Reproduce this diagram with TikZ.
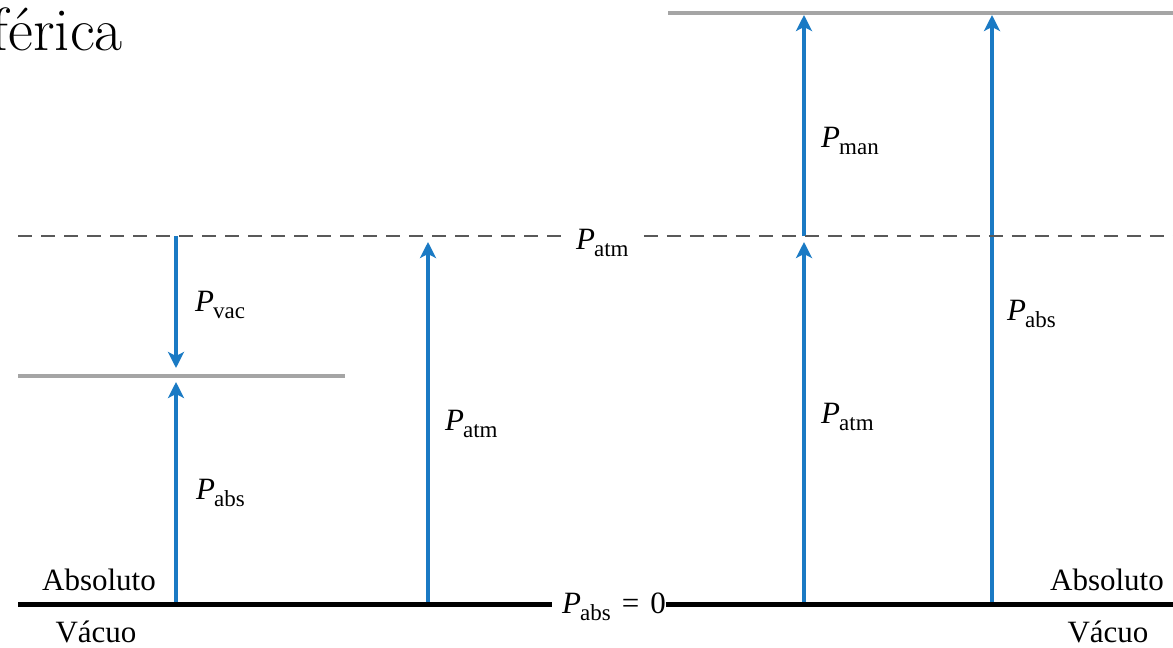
\documentclass[tikz,border=0pt]{standalone}
\usepackage{fontspec}
\newfontfamily\tnr{Liberation Serif}
\usetikzlibrary{arrows.meta}
\definecolor{pblue}{RGB}{26,122,196}
\definecolor{lvl}{RGB}{165,165,165}
\newcommand{\pvar}[1]{\textit{P}\kern-1pt\raisebox{-7pt}{\fontsize{23}{23}\selectfont #1}}
\tikzset{
  parrow/.style   = {draw=pblue, line width=3.2pt, -{Stealth[length=16pt,width=16pt,inset=4pt]}},
  lvline/.style   = {draw=lvl, line width=3.6pt},
  zeroline/.style = {draw=black, line width=5pt},
  atmline/.style  = {draw=black!65, line width=1.5pt, dash pattern=on 14pt off 9pt},
  plabel/.style   = {inner sep=0pt, anchor=base west, font=\tnr\fontsize{31}{31}\selectfont},
  wlabel/.style   = {inner sep=0pt, anchor=base, font=\tnr\fontsize{31}{31}\selectfont},
}
\begin{document}
\begin{tikzpicture}[x=1pt,y=-1pt]
  \useasboundingbox (0,0) rectangle (1173,648);
  \node[inner sep=0pt, anchor=base east, font=\fontsize{61}{61}\selectfont] (title) at (123,50) {férica};

  % levels
  \node[plabel, inner xsep=15pt] (atm) at (561,249) {\pvar{atm}};
  \node[plabel] (zero) at (562,613) {\pvar{abs}\hspace{11pt}=\hspace{11pt}0};
  \coordinate (dl) at (18,236);  \coordinate (dr) at (1173,236);
  \coordinate (bl) at (18,604);  \coordinate (br) at (1173,604);
  \coordinate (g1) at (18,376);  \coordinate (g2) at (345,376);
  \coordinate (t1) at (668,13);  \coordinate (t2) at (1173,13);

  % arrows
  \coordinate (a0) at (176,604); \coordinate (a1) at (176,236); \coordinate (a2) at (176,376);
  \coordinate (b0) at (428,604); \coordinate (b1) at (428,236);
  \coordinate (c0) at (804,604); \coordinate (c1) at (804,236); \coordinate (c2) at (804,13);
  \coordinate (d0) at (992,604); \coordinate (d2) at (992,13);
  \draw[parrow, shorten >=8pt] (a1) -- (a2);
  \draw[parrow, shorten >=6pt] (a0) -- (a2);
  \draw[parrow, shorten >=6pt] (b0) -- (b1);
  \draw[parrow, shorten >=6pt] (c0) -- (c1);
  \draw[parrow, shorten >=2pt] (c1) -- (c2);
  \draw[parrow, shorten >=2pt] (d0) -- (d2);

  \draw[atmline] (dl) -- (atm.west |- dl);
  \draw[atmline] (atm.east |- dr) -- (dr);
  \draw[lvline] (g1) -- (g2);
  \draw[lvline] (t1) -- (t2);
  \draw[zeroline, shorten >=10pt] (bl) -- (zero.west |- bl);
  \draw[zeroline] (zero.east |- br) -- (br);

  % labels
  \node[plabel] (pvac)  at (195,311)  {\pvar{vac}};
  \node[plabel] (pabs1) at (196,499)  {\pvar{abs}};
  \node[plabel] (patm1) at (445,430)  {\pvar{atm}};
  \node[plabel] (pman)  at (821,147)  {\pvar{man}};
  \node[plabel] (patm2) at (821,423)  {\pvar{atm}};
  \node[plabel] (pabs2) at (1007,320) {\pvar{abs}};
  \node[wlabel] (abs1) at (99,590)   {Absoluto};
  \node[wlabel] (vac1) at (96,642)   {Vácuo};
  \node[wlabel] (abs2) at (1107,590) {Absoluto};
  \node[wlabel] (vac2) at (1108,642) {Vácuo};
\end{tikzpicture}
\end{document}
